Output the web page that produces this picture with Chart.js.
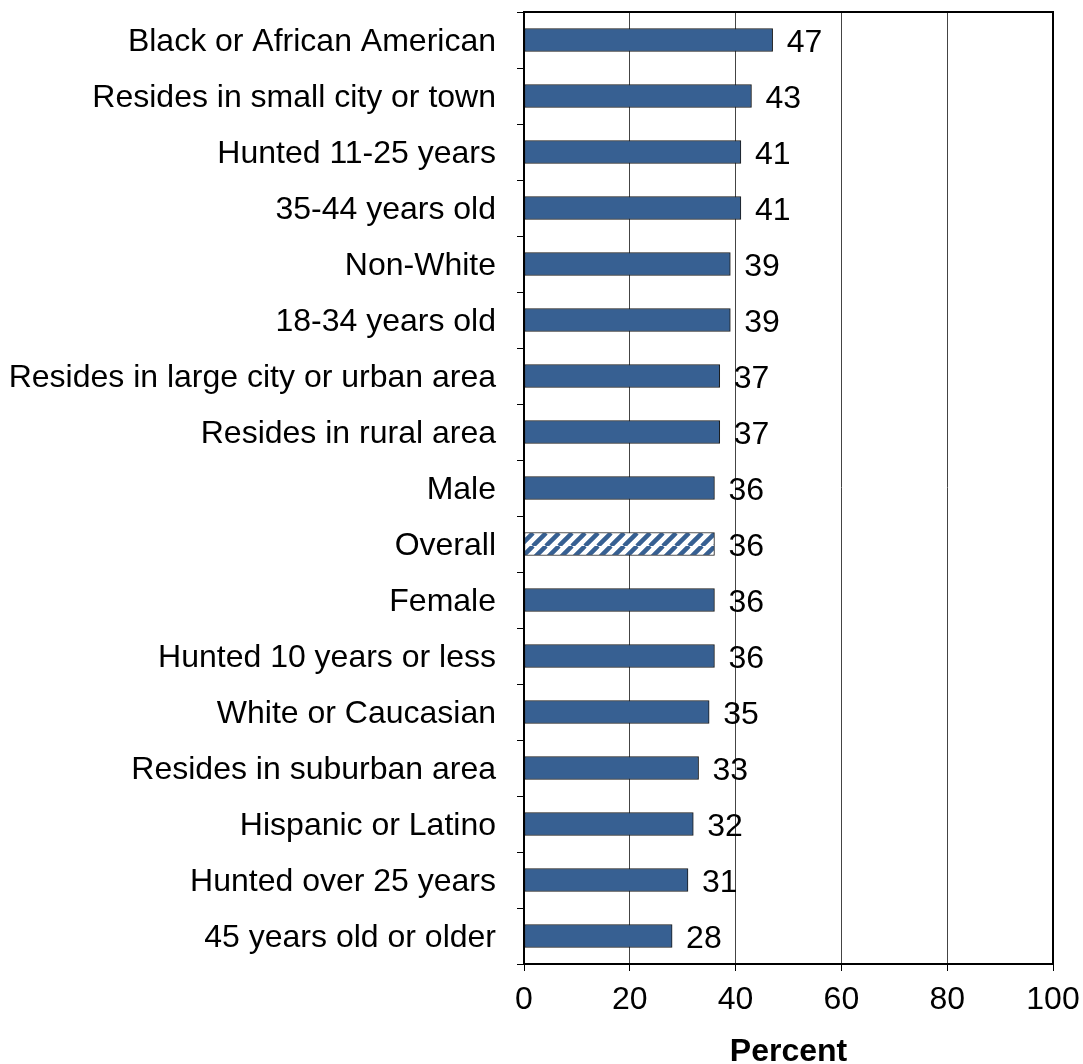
<!DOCTYPE html>
<html>
<head>
<meta charset="utf-8">
<script src="https://cdn.jsdelivr.net/npm/chart.js@4/dist/chart.umd.min.js"></script>
<style>
  html, body { margin: 0; padding: 0; background: #fff; }
  #wrap { width: 1083px; height: 1064px; }
</style>
</head>
<body>
<div id="wrap"><canvas id="c" width="1083" height="1064"></canvas></div>
<script>
const categories = [
  'Black or African American',
  'Resides in small city or town',
  'Hunted 11-25 years',
  '35-44 years old',
  'Non-White',
  '18-34 years old',
  'Resides in large city or urban area',
  'Resides in rural area',
  'Male',
  'Overall',
  'Female',
  'Hunted 10 years or less',
  'White or Caucasian',
  'Resides in suburban area',
  'Hispanic or Latino',
  'Hunted over 25 years',
  '45 years old or older'
];
const percentValues = [47, 43, 41, 41, 39, 39, 37, 37, 36, 36, 36, 36, 35, 33, 32, 31, 28];
const xTickValues = [0, 20, 40, 60, 80, 100];
const highlightCategory = 'Overall';

const BAR_BLUE = '#376092';
const FONT = '"Liberation Sans", Arial, sans-serif';
const FONT_SIZE = 32;

// Diagonal stripe fill for the overall bar
function makeHatch() {
  const s = 13;
  const p = document.createElement('canvas');
  p.width = s; p.height = s;
  const g = p.getContext('2d');
  g.fillStyle = '#fff';
  g.fillRect(0, 0, s, s);
  g.strokeStyle = BAR_BLUE;
  g.lineWidth = 4.5;
  g.beginPath();
  for (let k = -1; k <= 1; k++) {
    g.moveTo(k * s, s);
    g.lineTo(k * s + s, 0);
  }
  g.stroke();
  return g.createPattern(p, 'repeat');
}
const ctx = document.getElementById('c').getContext('2d');
const hatch = makeHatch();
const fills = categories.map(c => c === highlightCategory ? hatch : BAR_BLUE);

// Value labels at the end of each bar
const valueLabels = {
  id: 'valueLabels',
  afterDatasetsDraw(chart) {
    const c = chart.ctx;
    const meta = chart.getDatasetMeta(0);
    c.save();
    c.font = FONT_SIZE + 'px ' + FONT;
    c.fillStyle = '#000';
    c.textAlign = 'left';
    c.textBaseline = 'middle';
    meta.data.forEach((bar, i) => {
      c.fillText(String(percentValues[i]), bar.x + 14, bar.y + 3);
    });
    c.restore();
  }
};

// Box around the plotting area
const frame = {
  id: 'frame',
  afterDraw(chart) {
    const a = chart.chartArea;
    const c = chart.ctx;
    c.save();
    c.strokeStyle = '#000';
    c.lineWidth = 2;
    c.strokeRect(a.left, a.top, a.right - a.left, a.bottom - a.top);
    c.restore();
  }
};

new Chart(ctx, {
  type: 'bar',
  data: {
    labels: categories,
    datasets: [{
      data: percentValues,
      backgroundColor: fills,
      borderColor: '#1a1a1a',
      borderWidth: 1,
      borderSkipped: false,
      barThickness: 23
    }]
  },
  options: {
    indexAxis: 'y',
    responsive: false,
    animation: false,
    devicePixelRatio: 1,
    layout: { padding: { top: 12, right: 2, bottom: 0, left: 0 } },
    plugins: { legend: { display: false }, tooltip: { enabled: false } },
    scales: {
      x: {
        min: 0,
        max: 100,
        afterBuildTicks(scale) { scale.ticks = xTickValues.map(v => ({ value: v })); },
        afterFit(scale) { scale.height = 100; scale.paddingRight = 30; },
        grid: { color: '#444', lineWidth: 1, tickLength: 7, tickColor: '#000' },
        border: { color: '#000', width: 2 },
        ticks: { color: '#000', font: { family: FONT, size: FONT_SIZE }, padding: 10 },
        title: {
          display: true,
          text: 'Percent',
          color: '#000',
          font: { family: FONT, size: FONT_SIZE, weight: 'bold' },
          padding: { top: 0, bottom: -7 }
        }
      },
      y: {
        afterFit(scale) { scale.width = 524; scale.paddingTop = 0; scale.paddingBottom = 0; },
        grid: { drawOnChartArea: false, offset: true, tickLength: 7, color: '#000' },
        border: { color: '#000', width: 2 },
        ticks: { color: '#000', font: { family: FONT, size: FONT_SIZE }, padding: 21, autoSkip: false, labelOffset: 2 }
      }
    }
  },
  plugins: [valueLabels, frame]
});
</script>
</body>
</html>
